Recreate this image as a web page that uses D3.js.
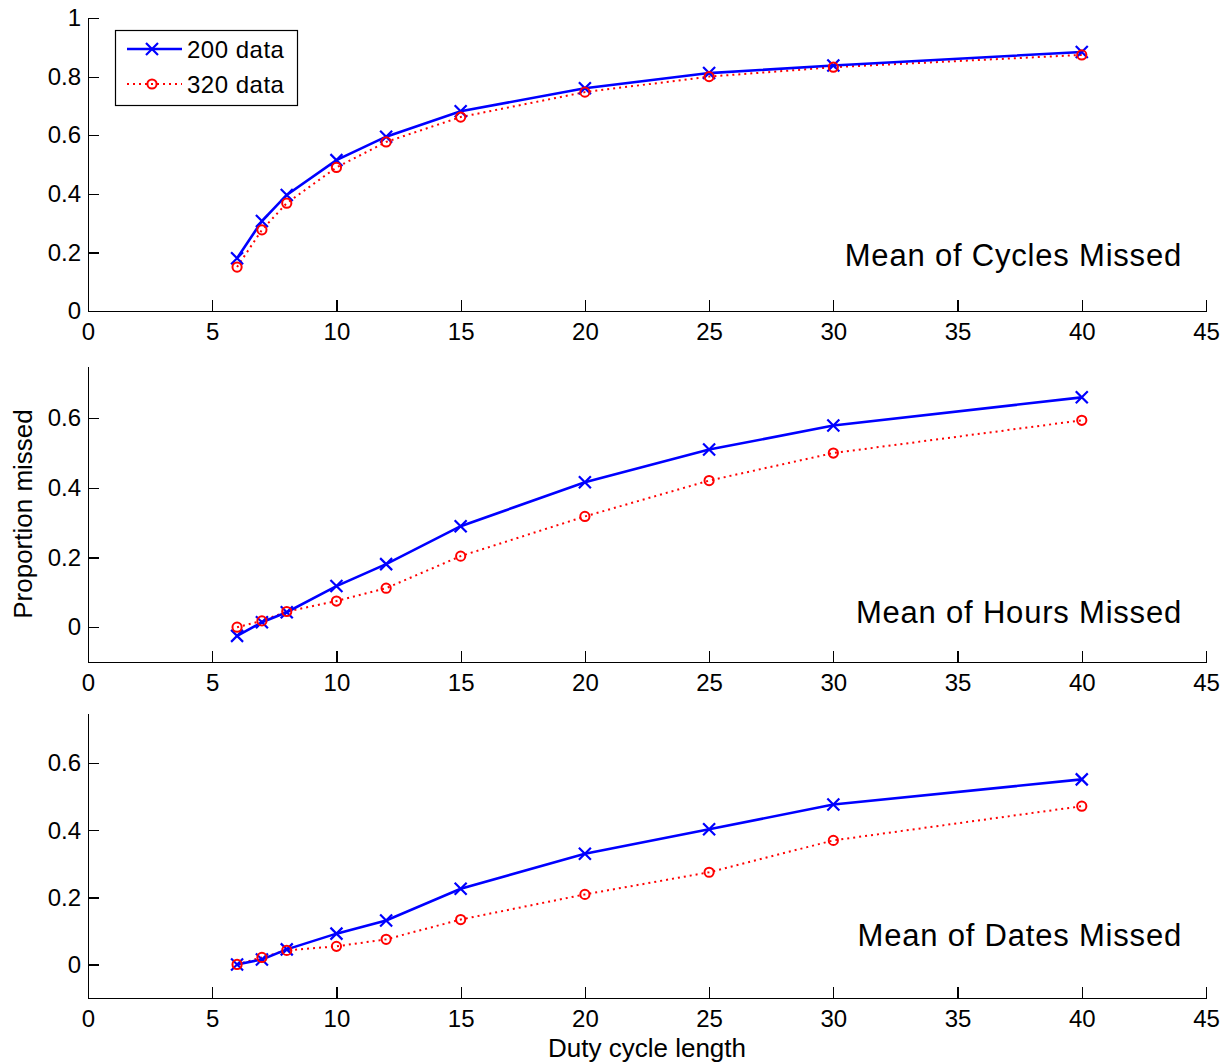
<!DOCTYPE html>
<html>
<head>
<meta charset="utf-8">
<script src="https://cdn.jsdelivr.net/npm/d3@7"></script>
<style>
body { margin: 0; background: #fff; }
svg { display: block; }
.axis path, .axis line { stroke: #000; stroke-width: 1.2px; shape-rendering: crispEdges; }
.axis text { font-family: "Liberation Sans", Arial, sans-serif; font-size: 24px; fill: #000; }
.lbl { font-family: "Liberation Sans", Arial, sans-serif; fill: #000; }
</style>
</head>
<body>
<div id="chart"></div>
<script>
// duty cycle lengths (x) and the proportions
var cycleLengths = [6, 7, 8, 10, 12, 15, 20, 25, 30, 40];

var cycles200 = [0.18, 0.307, 0.396, 0.515, 0.595, 0.682, 0.76, 0.812, 0.838, 0.884];
var cycles320 = [0.15, 0.277, 0.368, 0.49, 0.577, 0.662, 0.747, 0.8, 0.832, 0.874];

var hours200 = [-0.025, 0.014, 0.043, 0.118, 0.181, 0.29, 0.416, 0.51, 0.579, 0.66];
var hours320 = [0.0, 0.018, 0.045, 0.075, 0.112, 0.204, 0.318, 0.421, 0.5, 0.594];

var dates200 = [0.0, 0.015, 0.045, 0.092, 0.131, 0.226, 0.33, 0.403, 0.477, 0.552];
var dates320 = [0.0, 0.021, 0.042, 0.054, 0.075, 0.134, 0.209, 0.275, 0.37, 0.472];

var xTicks = [0, 5, 10, 15, 20, 25, 30, 35, 40, 45];
var yTicksTop = [0, 0.2, 0.4, 0.6, 0.8, 1];
var yTicksLow = [0, 0.2, 0.4, 0.6];

var seriesNames = ["200 data", "320 data"];
var panelTitles = ["Mean of Cycles Missed", "Mean of Hours Missed", "Mean of Dates Missed"];

var width = 1231, height = 1064;
var left = 88, right = 1206;

var panels = [
    {top: 18,  bottom: 311, domain: [0, 1],       ticks: yTicksTop, a: cycles200, b: cycles320, title: panelTitles[0], titleY: 266},
    {top: 366, bottom: 662, domain: [-0.1, 0.75], ticks: yTicksLow, a: hours200,  b: hours320,  title: panelTitles[1], titleY: 623},
    {top: 713, bottom: 998, domain: [-0.1, 0.75], ticks: yTicksLow, a: dates200,  b: dates320,  title: panelTitles[2], titleY: 946}
];

var svg = d3.select("#chart")
    .append("svg")
        .attr("width", width)
        .attr("height", height);

var x = d3.scaleLinear().domain([0, 45]).range([left, right]);

function xMark(g, px, py, s) {
    g.append("path")
        .attr("d", "M" + (px - s) + "," + (py - s) + "L" + (px + s) + "," + (py + s) +
                   "M" + (px - s) + "," + (py + s) + "L" + (px + s) + "," + (py - s))
        .attr("stroke", "#0000ff")
        .attr("stroke-width", 2.2)
        .attr("fill", "none");
}

function oMark(g, px, py) {
    g.append("circle")
        .attr("cx", px)
        .attr("cy", py)
        .attr("r", 4.6)
        .attr("stroke", "#ff0000")
        .attr("stroke-width", 2)
        .attr("fill", "none");
}

panels.forEach(function(p) {
    var y = d3.scaleLinear().domain(p.domain).range([p.bottom, p.top]);
    var g = svg.append("g");

    g.append("g")
        .attr("class", "axis")
        .attr("transform", "translate(0," + p.bottom + ")")
        .call(d3.axisBottom(x).tickValues(xTicks).tickFormat(d3.format("d"))
            .tickSizeInner(-11).tickSizeOuter(0).tickPadding(12));

    g.append("g")
        .attr("class", "axis")
        .attr("transform", "translate(" + left + ",0)")
        .call(d3.axisLeft(y).tickValues(p.ticks).tickFormat(function(d) { return d3.format("")(+d.toFixed(1)); })
            .tickSizeInner(-11).tickSizeOuter(0).tickPadding(7));

    var line = d3.line()
        .x(function(d, i) { return x(cycleLengths[i]); })
        .y(function(d) { return y(d); });

    g.append("path")
        .attr("d", line(p.b))
        .attr("fill", "none")
        .attr("stroke", "#ff0000")
        .attr("stroke-width", 2)
        .attr("stroke-dasharray", "2,4");

    g.append("path")
        .attr("d", line(p.a))
        .attr("fill", "none")
        .attr("stroke", "#0000ff")
        .attr("stroke-width", 2.6);

    p.a.forEach(function(d, i) { xMark(g, x(cycleLengths[i]), y(d), 6); });
    p.b.forEach(function(d, i) { oMark(g, x(cycleLengths[i]), y(d)); });

    g.append("text")
        .attr("class", "lbl")
        .attr("x", 1182)
        .attr("y", p.titleY)
        .attr("text-anchor", "end")
        .style("font-size", "31px")
        .style("letter-spacing", "0.8px")
        .text(p.title);
});

// legend in the top panel
var leg = svg.append("g");
leg.append("rect")
    .attr("x", 115.5).attr("y", 30.5)
    .attr("width", 182).attr("height", 75)
    .attr("fill", "#fff").attr("stroke", "#000").attr("stroke-width", 1.2);

leg.append("line")
    .attr("x1", 127).attr("x2", 182).attr("y1", 49).attr("y2", 49)
    .attr("stroke", "#0000ff").attr("stroke-width", 2.6);
xMark(leg, 152, 49, 6);
leg.append("line")
    .attr("x1", 127).attr("x2", 182).attr("y1", 84).attr("y2", 84)
    .attr("stroke", "#ff0000").attr("stroke-width", 2).attr("stroke-dasharray", "2,4");
oMark(leg, 152, 84);

leg.selectAll("text.legend")
    .data(seriesNames)
    .enter().append("text")
        .attr("class", "lbl legend")
        .attr("x", 187)
        .attr("y", function(d, i) { return 58 + i * 35; })
        .style("font-size", "24px")
        .style("letter-spacing", "0.5px")
        .text(function(d) { return d; });

// axis titles
svg.append("text")
    .attr("class", "lbl")
    .attr("x", (left + right) / 2)
    .attr("y", 1057)
    .attr("text-anchor", "middle")
    .style("font-size", "26px")
    .text("Duty cycle length");

svg.append("text")
    .attr("class", "lbl")
    .attr("transform", "translate(32,514) rotate(-90)")
    .attr("text-anchor", "middle")
    .style("font-size", "26px")
    .text("Proportion missed");
</script>
</body>
</html>
